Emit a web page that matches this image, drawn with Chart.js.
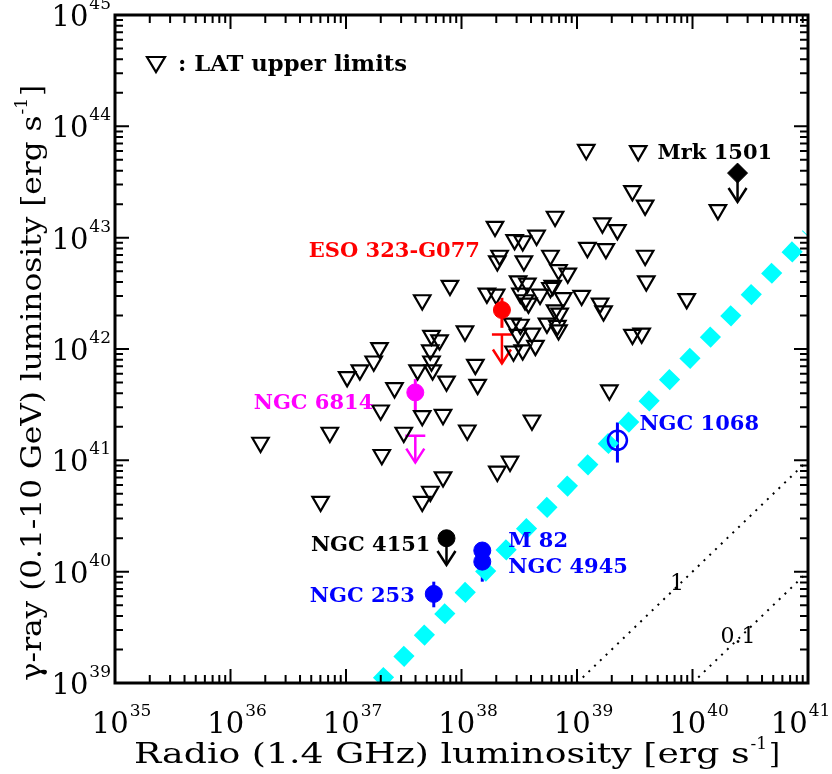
<!DOCTYPE html>
<html>
<head>
<meta charset="utf-8">
<script src="https://cdn.jsdelivr.net/npm/chart.js@4.4.1/dist/chart.umd.min.js"></script>
<style>
    html, body { margin: 0; padding: 0; background: #fff; }
</style>
</head>
<body>
<canvas id="lumChart" width="832" height="774"></canvas>
<script>
// ------------------------------------------------------------
// Gamma-ray vs radio luminosity (values are log10 erg/s)
// ------------------------------------------------------------

// LAT upper limits (open triangles)
const limLogRadio = [
    39.08, 39.53, 39.48, 39.59, 40.22, 38.81, 39.22, 39.35, 38.29, 38.46, 38.53, 38.65, 39.09,
    39.25, 39.59, 38.33, 38.31, 38.54, 38.77, 38.84, 38.92, 39.60, 39.95, 39.48, 39.56,
    37.90, 37.66, 38.22, 38.30, 38.49, 38.57, 38.51, 38.55, 38.58, 38.68, 38.77, 38.79, 38.88,
    39.04, 39.20, 39.23, 38.81, 38.85, 38.44, 38.51, 38.74, 38.83, 38.03, 37.74, 37.81, 37.73,
    38.49, 38.61, 38.45, 38.53, 38.64, 38.12, 37.74, 37.75, 38.84,
    37.29, 37.24, 37.12, 37.01, 37.42, 37.62, 37.87, 38.14, 37.30, 37.66, 37.84, 37.50, 36.86,
    36.26, 38.05, 38.61, 39.28, 37.31, 37.84, 37.73, 37.66, 36.78, 38.42, 38.31
];
const limLogGamma = [
    43.79, 43.78, 43.42, 43.29, 43.25, 43.19, 43.13, 43.07, 43.10, 42.98, 42.97, 43.02, 42.91,
    42.90, 42.84, 42.84, 42.79, 42.79, 42.84, 42.71, 42.68, 42.61, 42.45, 42.13, 42.14,
    42.57, 42.44, 42.50, 42.49, 42.61, 42.59, 42.50, 42.44, 42.41, 42.49, 42.55, 42.57, 42.46,
    42.48, 42.41, 42.34, 42.35, 42.32, 42.23, 42.22, 42.23, 42.21, 42.16, 42.12, 42.08, 41.99,
    42.13, 42.14, 41.98, 41.99, 42.03, 41.86, 41.89, 41.81, 42.17,
    42.01, 41.89, 41.81, 41.75, 41.65, 41.81, 41.71, 41.68, 41.45, 41.40, 41.41, 41.25, 41.25,
    41.16, 41.27, 41.36, 41.63, 41.05, 40.85, 40.72, 40.63, 40.63, 40.99, 40.90
];

// LAT detections (filled circles)
const detNames    = ['ESO 323-G077', 'NGC 6814', 'NGC 4151', 'M 82', 'NGC 4945', 'NGC 253'];
const detLogRadio = [38.35, 37.60, 37.87, 38.18, 38.18, 37.76];
const detLogGamma = [42.35, 41.61, 40.30, 40.19, 40.09, 39.80];
const detErrLo    = [42.19, 41.45, null, 40.12, 39.91, 39.68];
const detErrHi    = [42.46, 41.73, null, 40.26, 40.16, 39.91];
const detColors   = ['#ff0000', '#ff00ff', '#000000', '#0000ff', '#0000ff', '#0000ff'];

// NGC 1068 (open circle)
const n1068LogRadio = 39.35;
const n1068LogGamma = 41.18;
const n1068Err      = [40.98, 41.34];

// Mrk 1501 (diamond)
const mrkLogRadio = 40.39;
const mrkLogGamma = 43.58;

// downward arrows
const arrowRadio = [38.35, 37.60, 37.87, 40.39];
const arrowFrom  = [42.13, 41.22, 40.30, 43.58];
const arrowTip   = [41.87, 40.98, 40.06, 43.32];
const arrowBar   = [true, true, false, false];
const arrowColor = ['#ff0000', '#ff00ff', '#000000', '#000000'];

// reference lines
const cyanLine = [[37.28, 39.0], [41.0, 43.02]];
const ratio1   = [[39.0, 39.0], [41.0, 41.0]];
const ratio01  = [[40.0, 39.0], [41.0, 40.0]];

const xExp = [35, 36, 37, 38, 39, 40, 41];
const yExp = [39, 40, 41, 42, 43, 44, 45];

const pow = v => Math.pow(10, v);
const toPts = (xs, ys) => xs.map((v, i) => ({ x: pow(v), y: pow(ys[i]) }));
const linePts = arr => arr.map(p => ({ x: pow(p[0]), y: pow(p[1]) }));

const FONT = '"DejaVu Serif", serif';

// tick labels as 10 + superscript
function drawPow(ctx, exp, x, baseline, align) {
    ctx.font = `29px ${FONT}`;
    const w1 = ctx.measureText('10').width;
    ctx.font = `17px ${FONT}`;
    const w2 = ctx.measureText(String(exp)).width;
    const left = align === 'center' ? x - (w1 + w2) / 2 : x - (w1 + w2);
    ctx.textAlign = 'left';
    ctx.textBaseline = 'alphabetic';
    ctx.font = `29px ${FONT}`;
    ctx.fillText('10', left, baseline);
    ctx.font = `17px ${FONT}`;
    ctx.fillText(String(exp), left + w1 + 1, baseline - 17);
}

function drawArrowHead(ctx, x, tip) {
    ctx.beginPath();
    ctx.moveTo(x - 9, tip - 14);
    ctx.lineTo(x, tip);
    ctx.lineTo(x + 9, tip - 14);
    ctx.stroke();
}

// text squeezed/stretched to a given width
function fitText(ctx, text, font, left, baseline, width) {
    ctx.font = font;
    const w = ctx.measureText(text).width;
    ctx.save();
    ctx.translate(left, baseline);
    ctx.scale(width / w, 1);
    ctx.textAlign = 'left';
    ctx.fillText(text, 0, 0);
    ctx.restore();
}

const decor = {
    id: 'decor',
    beforeDatasetsDraw(chart) {
        const { ctx, scales: { x, y } } = chart;
        ctx.save();
        ctx.lineWidth = 3;
        // error bars
        detLogRadio.forEach((r, i) => {
            if (detErrLo[i] === null) return;
            const px = x.getPixelForValue(pow(r));
            ctx.strokeStyle = detColors[i];
            ctx.beginPath();
            ctx.moveTo(px, y.getPixelForValue(pow(detErrLo[i])));
            ctx.lineTo(px, y.getPixelForValue(pow(detErrHi[i])));
            ctx.stroke();
        });
        const px1068 = x.getPixelForValue(pow(n1068LogRadio));
        ctx.strokeStyle = '#0000ff';
        ctx.beginPath();
        ctx.moveTo(px1068, y.getPixelForValue(pow(n1068Err[0])));
        ctx.lineTo(px1068, y.getPixelForValue(pow(n1068Err[1])));
        ctx.stroke();

        // upper-limit arrows
        ctx.lineWidth = 2.5;
        arrowRadio.forEach((r, i) => {
            const px = x.getPixelForValue(pow(r));
            const y0 = y.getPixelForValue(pow(arrowFrom[i]));
            const y1 = y.getPixelForValue(pow(arrowTip[i]));
            ctx.strokeStyle = arrowColor[i];
            ctx.beginPath();
            if (arrowBar[i]) {
                ctx.moveTo(px - 10, y0);
                ctx.lineTo(px + 10, y0);
            }
            ctx.moveTo(px, y0);
            ctx.lineTo(px, y1);
            ctx.stroke();
            drawArrowHead(ctx, px, y1);
        });
        ctx.restore();
    },
    afterDraw(chart) {
        const { ctx, chartArea: a, scales: { x, y } } = chart;
        ctx.save();
        ctx.fillStyle = '#000';
        ctx.strokeStyle = '#000';

        // frame
        ctx.lineWidth = 3;
        ctx.strokeRect(a.left, a.top, a.right - a.left, a.bottom - a.top);

        // ticks on all four sides, pointing in
        ctx.lineWidth = 2;
        ctx.beginPath();
        for (let e = 35; e <= 40; e++) {
            for (let m = 1; m <= 9; m++) {
                const px = x.getPixelForValue(m * pow(e));
                const len = m === 1 ? 14 : 8;
                ctx.moveTo(px, a.bottom); ctx.lineTo(px, a.bottom - len);
                ctx.moveTo(px, a.top);    ctx.lineTo(px, a.top + len);
            }
        }
        for (let e = 39; e <= 44; e++) {
            for (let m = 1; m <= 9; m++) {
                const py = y.getPixelForValue(m * pow(e));
                const len = m === 1 ? 14 : 8;
                ctx.moveTo(a.left, py);  ctx.lineTo(a.left + len, py);
                ctx.moveTo(a.right, py); ctx.lineTo(a.right - len, py);
            }
        }
        ctx.stroke();

        // tick labels
        xExp.forEach(e => {
            const shift = e === 41 ? -8 : 6;
            drawPow(ctx, e, x.getPixelForValue(pow(e)) + shift, a.bottom + 50, 'center');
        });
        yExp.forEach(e => drawPow(ctx, e, a.left - 5, y.getPixelForValue(pow(e)) + 11, 'right'));

        // axis titles: main text, superscript -1, closing bracket
        ctx.textBaseline = 'alphabetic';
        const drawTitle = (pre, width) => {
            ctx.font = `17px ${FONT}`;
            const wSup = ctx.measureText('-1').width;
            ctx.font = `28px ${FONT}`;
            const wEnd = ctx.measureText(']').width;
            const wPre = width - wSup - wEnd - 3;
            const left = -width / 2;
            fitText(ctx, pre, `28px ${FONT}`, left, 0, wPre);
            ctx.textAlign = 'left';
            ctx.font = `17px ${FONT}`;
            ctx.fillText('-1', left + wPre + 1, -14);
            ctx.font = `28px ${FONT}`;
            ctx.fillText(']', left + wPre + wSup + 3, 0);
        };
        ctx.save();
        ctx.translate(457, 763);
        drawTitle('Radio (1.4 GHz) luminosity [erg s', 646);
        ctx.restore();
        ctx.save();
        ctx.translate(41, 383);
        ctx.rotate(-Math.PI / 2);
        drawTitle('\u03b3-ray (0.1-10 GeV) luminosity [erg s', 596);
        ctx.restore();

        // legend note
        ctx.lineWidth = 2.2;
        ctx.beginPath();
        ctx.moveTo(147, 57); ctx.lineTo(165, 57); ctx.lineTo(156, 72); ctx.closePath();
        ctx.stroke();
        ctx.textBaseline = 'middle';
        fitText(ctx, ': LAT upper limits', `bold 22px ${FONT}`, 178, 65, 229);

        // source names, offset from their points
        ctx.font = `bold 21px ${FONT}`;
        const label = (text, color, lr, lg, dx, dy, align) => {
            ctx.fillStyle = color;
            ctx.textAlign = align;
            ctx.fillText(text, x.getPixelForValue(pow(lr)) + dx, y.getPixelForValue(pow(lg)) + dy);
        };
        label('ESO 323-G077', '#ff0000', detLogRadio[0], detLogGamma[0], -22, -58, 'right');
        label('NGC 6814', '#ff00ff', detLogRadio[1], detLogGamma[1], -42, 11, 'right');
        label('NGC 4151', '#000000', detLogRadio[2], detLogGamma[2], -16, 7, 'right');
        label('M 82', '#0000ff', detLogRadio[3], detLogGamma[3], 26, -9, 'left');
        label('NGC 4945', '#0000ff', detLogRadio[4], detLogGamma[4], 26, 6, 'left');
        label('NGC 253', '#0000ff', detLogRadio[5], detLogGamma[5], -19, 3, 'right');
        label('NGC 1068', '#0000ff', n1068LogRadio, n1068LogGamma, 22, -16, 'left');
        label('Mrk 1501', '#000000', mrkLogRadio, mrkLogGamma, -80, -20, 'left');

        ctx.fillStyle = '#000';
        ctx.font = `22px ${FONT}`;
        ctx.textAlign = 'center';
        ctx.fillText('1', 677, 584);
        ctx.fillText('0.1', 738, 637);
        ctx.restore();
    }
};

new Chart(document.getElementById('lumChart'), {
    type: 'scatter',
    data: {
        datasets: [
            {   // detections
                data: toPts(detLogRadio, detLogGamma),
                pointStyle: 'circle',
                pointRadius: 8.5,
                pointBackgroundColor: detColors,
                pointBorderColor: detColors,
                pointBorderWidth: 1,
                order: 1
            },
            {   // NGC 1068
                data: [{ x: pow(n1068LogRadio), y: pow(n1068LogGamma) }],
                pointStyle: 'circle',
                pointRadius: 9.5,
                pointBackgroundColor: 'rgba(0,0,0,0)',
                pointBorderColor: '#0000ff',
                pointBorderWidth: 2.5,
                order: 1
            },
            {   // Mrk 1501
                data: [{ x: pow(mrkLogRadio), y: pow(mrkLogGamma) }],
                pointStyle: 'rectRot',
                pointRadius: 10,
                pointBackgroundColor: '#000',
                pointBorderColor: '#000',
                pointBorderWidth: 1,
                order: 1
            },
            {   // LAT upper limits
                data: toPts(limLogRadio, limLogGamma),
                pointStyle: 'triangle',
                rotation: 180,
                pointRadius: 9.5,
                pointBackgroundColor: 'rgba(0,0,0,0)',
                pointBorderColor: '#000',
                pointBorderWidth: 2.2,
                order: 2
            },
            {
                data: linePts(ratio1),
                showLine: true, pointRadius: 0,
                borderColor: '#000', borderWidth: 2, borderDash: [2, 6],
                order: 3
            },
            {
                data: linePts(ratio01),
                showLine: true, pointRadius: 0,
                borderColor: '#000', borderWidth: 2, borderDash: [2, 6],
                order: 3
            },
            {
                data: linePts(cyanLine),
                showLine: true, pointRadius: 0,
                borderColor: '#00ffff', borderWidth: 15, borderDash: [15, 14.5],
                borderCapStyle: 'butt',
                order: 4
            }
        ]
    },
    options: {
        responsive: false,
        animation: false,
        devicePixelRatio: 1,
        layout: { padding: { left: 115, right: 24, top: 15, bottom: 91 } },
        plugins: { legend: { display: false }, tooltip: { enabled: false } },
        scales: {
            x: { type: 'logarithmic', min: 1e35, max: 1e41, display: false },
            y: { type: 'logarithmic', min: 1e39, max: 1e45, display: false }
        }
    },
    plugins: [decor]
});
</script>
</body>
</html>
